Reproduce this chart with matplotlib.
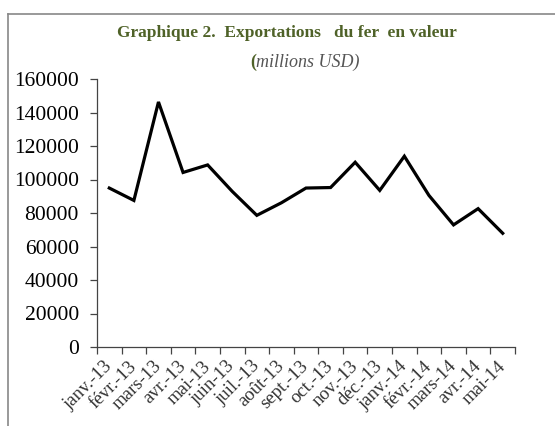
import matplotlib
matplotlib.use("Agg")
import matplotlib.pyplot as plt
from matplotlib.lines import Line2D
import matplotlib.transforms as mtransforms
import numpy as np

months = ["janv.-13", "févr.-13", "mars-13", "avr.-13", "mai-13", "juin-13",
          "juil.-13", "août-13", "sept.-13", "oct.-13", "nov.-13", "déc.-13",
          "janv.-14", "févr.-14", "mars-14", "avr.-14", "mai-14"]
values = [94900, 87500, 146300, 104200, 108700, 92900, 78600, 86100, 94900,
          95200, 110300, 93500, 113900, 90500, 72900, 82600, 67900]
yticks = [0, 20000, 40000, 60000, 80000, 100000, 120000, 140000, 160000]

plt.rcParams['font.family'] = ['Liberation Serif', 'DejaVu Serif']

fig = plt.figure(figsize=(5.55, 4.26), dpi=100)
ax = fig.add_axes([97/555, 1-347/426, (515-97)/555, (347-79)/426])

x = np.arange(len(months))
ax.plot(x, values, color='black', lw=2.3, solid_joinstyle='miter')
ax.set_xlim(-0.5, len(months)-0.5)
ax.set_ylim(0, 160000)
ax.set_yticks(yticks)
ax.set_yticklabels([str(v) for v in yticks], fontsize=15.5)
ax.set_xticks(x)
ax.set_xticklabels(months, rotation=45, ha='right', va='center', rotation_mode='anchor',
                   fontsize=13.5, color='#333333')
offset = mtransforms.ScaledTranslation(3/100, -2/100, fig.dpi_scale_trans)
for lbl in ax.get_xticklabels():
    lbl.set_transform(lbl.get_transform() + offset)
ax.set_xticks(np.arange(-0.5, len(months)), minor=True)
ax.tick_params(axis='x', which='major', length=0, pad=12)
ax.tick_params(axis='x', which='minor', length=5, width=0.9, color='#444444')
ax.tick_params(axis='y', length=5, width=0.9, color='#444444', pad=8)
for s in ['top', 'right']:
    ax.spines[s].set_visible(False)
for s in ['left', 'bottom']:
    ax.spines[s].set_color('#444444')
    ax.spines[s].set_linewidth(0.9)

fig.text(287/555, 1-33/426, "Graphique 2.  Exportations   du fer  en valeur",
         ha='center', va='center', fontsize=12.5, fontweight='bold', color='#4F6228')
fig.text(250/555, 1-62/426, "(", ha='left', va='center', fontsize=13,
         fontweight='bold', color='#4F6228')
fig.text(256/555, 1-62/426, "millions USD)", ha='left', va='center', fontsize=13,
         style='italic', color='#555555')

fig.add_artist(Line2D([8/555, 1], [1-14/426, 1-14/426], color='#888888', lw=1.2,
                      transform=fig.transFigure))
fig.add_artist(Line2D([8/555, 8/555], [0, 1-14/426], color='#888888', lw=1.2,
                      transform=fig.transFigure))

fig.savefig("out.png", dpi=100)
